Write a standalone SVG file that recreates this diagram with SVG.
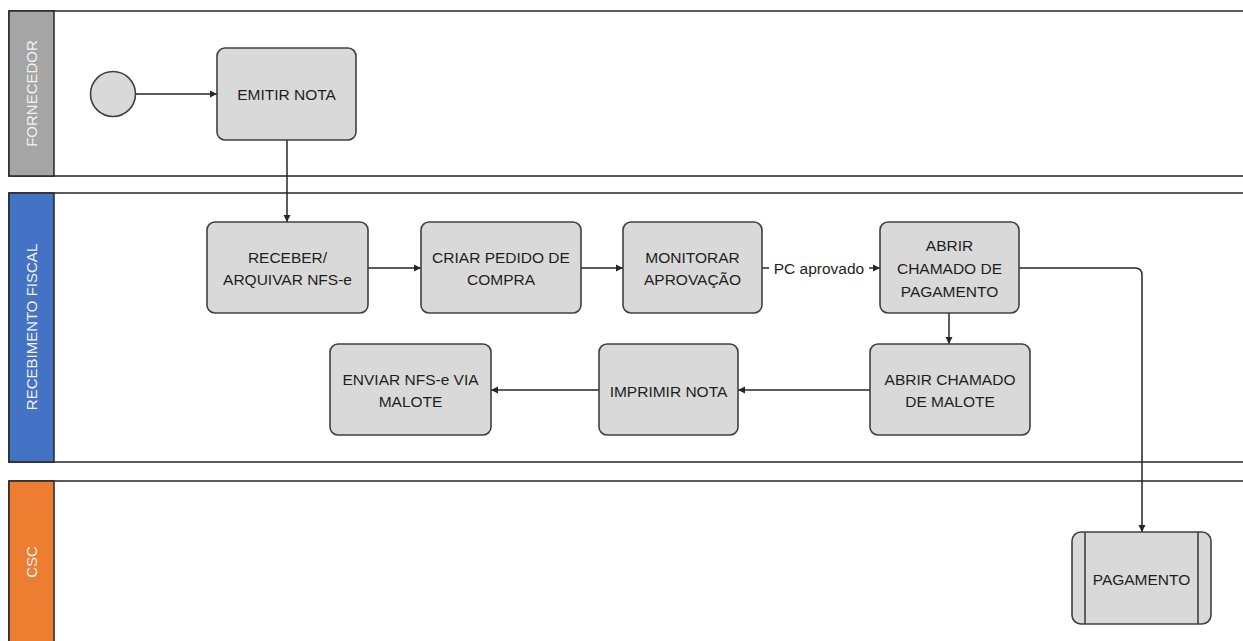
<svg xmlns="http://www.w3.org/2000/svg" width="1243" height="641" viewBox="0 0 1243 641">
<defs>
<style>
.lane{fill:#fff;stroke:#262626;stroke-width:1.5}
.hdr{stroke:#262626;stroke-width:1.5}
.lt{font-family:"Liberation Sans",Arial,sans-serif;font-size:15px;fill:#f2f2f2;text-anchor:middle}
.box{fill:#d9d9d9;stroke:#404040;stroke-width:1.6}
.t{font-family:"Liberation Sans",Arial,sans-serif;font-size:15.5px;fill:#1e1e1e;text-anchor:middle}
.c{fill:none;stroke:#262626;stroke-width:1.5}
</style>
<marker id="ah" markerWidth="8" markerHeight="8" refX="7" refY="4" orient="auto" markerUnits="userSpaceOnUse">
<path d="M0,0.5 L7,4 L0,7.5 Z" fill="#262626"/>
</marker>
</defs>
<rect width="1243" height="641" fill="#fff"/>
<g id="lane-fornecedor">
<rect class="lane" x="9" y="11" width="1250" height="165"/>
<rect class="hdr" x="9" y="11" width="45" height="165" fill="#a5a5a5"/>
<text class="lt" transform="translate(37,93.5) rotate(-90)">FORNECEDOR</text>
</g>
<g id="lane-recebimento">
<rect class="lane" x="9" y="193" width="1250" height="269"/>
<rect class="hdr" x="9" y="193" width="45" height="269" fill="#4472c4"/>
<text class="lt" transform="translate(37,327) rotate(-90)">RECEBIMENTO FISCAL</text>
</g>
<g id="lane-csc">
<rect class="lane" x="9" y="481" width="1250" height="180"/>
<rect class="hdr" x="9" y="481" width="45" height="180" fill="#ed7d31"/>
<text class="lt" transform="translate(37,562) rotate(-90)">CSC</text>
</g>
<g id="connectors">
<line class="c" x1="136" y1="94" x2="217" y2="94" marker-end="url(#ah)"/>
<line class="c" x1="287" y1="140" x2="287" y2="222" marker-end="url(#ah)"/>
<line class="c" x1="368" y1="268" x2="421" y2="268" marker-end="url(#ah)"/>
<line class="c" x1="581" y1="268" x2="623" y2="268" marker-end="url(#ah)"/>
<line class="c" x1="762" y1="268" x2="880" y2="268" marker-end="url(#ah)"/>
<rect x="769" y="258" width="100" height="20" fill="#fff"/>
<text class="t" x="819" y="274" style="font-size:15.5px">PC aprovado</text>
<path class="c" d="M1019,268 H1135 Q1142,268 1142,275 V532" marker-end="url(#ah)"/>
<line class="c" x1="949" y1="313" x2="949" y2="344" marker-end="url(#ah)"/>
<line class="c" x1="870" y1="390" x2="738" y2="390" marker-end="url(#ah)"/>
<line class="c" x1="599" y1="390" x2="491" y2="390" marker-end="url(#ah)"/>
</g>
<g id="start">
<circle cx="113" cy="94" r="22.5" fill="#d9d9d9" stroke="#404040" stroke-width="1.6"/>
</g>
<g id="emitir-nota">
<rect class="box" x="217" y="48" width="139" height="92" rx="8"/>
<text class="t" x="286.5" y="99.5">EMITIR NOTA</text>
</g>
<g id="receber">
<rect class="box" x="207" y="222" width="161" height="91" rx="8"/>
<text class="t" x="287.5" y="262.5">RECEBER/</text>
<text class="t" x="287.5" y="284.5">ARQUIVAR NFS-e</text>
</g>
<g id="criar-pedido">
<rect class="box" x="421" y="222" width="160" height="91" rx="8"/>
<text class="t" x="501" y="263">CRIAR PEDIDO DE</text>
<text class="t" x="501" y="284.5">COMPRA</text>
</g>
<g id="monitorar">
<rect class="box" x="623" y="222" width="139" height="91" rx="8"/>
<text class="t" x="692.5" y="263">MONITORAR</text>
<text class="t" x="692.5" y="284.5">APROVAÇÃO</text>
</g>
<g id="abrir-pagamento">
<rect class="box" x="880" y="222" width="139" height="91" rx="8"/>
<text class="t" x="949.5" y="250.5">ABRIR</text>
<text class="t" x="949.5" y="273.5">CHAMADO DE</text>
<text class="t" x="949.5" y="296.5">PAGAMENTO</text>
</g>
<g id="abrir-malote">
<rect class="box" x="870" y="344" width="160" height="91" rx="8"/>
<text class="t" x="950" y="385">ABRIR CHAMADO</text>
<text class="t" x="950" y="406.5">DE MALOTE</text>
</g>
<g id="imprimir">
<rect class="box" x="599" y="344" width="139" height="91" rx="8"/>
<text class="t" x="668.5" y="396.5">IMPRIMIR NOTA</text>
</g>
<g id="enviar">
<rect class="box" x="330" y="344" width="161" height="91" rx="8"/>
<text class="t" x="410.5" y="385">ENVIAR NFS-e VIA</text>
<text class="t" x="410.5" y="406.5">MALOTE</text>
</g>
<g id="pagamento">
<rect class="box" x="1072" y="532" width="139" height="92" rx="9"/>
<line x1="1085" y1="532" x2="1085" y2="624" stroke="#404040" stroke-width="1.6"/>
<line x1="1198" y1="532" x2="1198" y2="624" stroke="#404040" stroke-width="1.6"/>
<text class="t" x="1141.5" y="585">PAGAMENTO</text>
</g>
</svg>
